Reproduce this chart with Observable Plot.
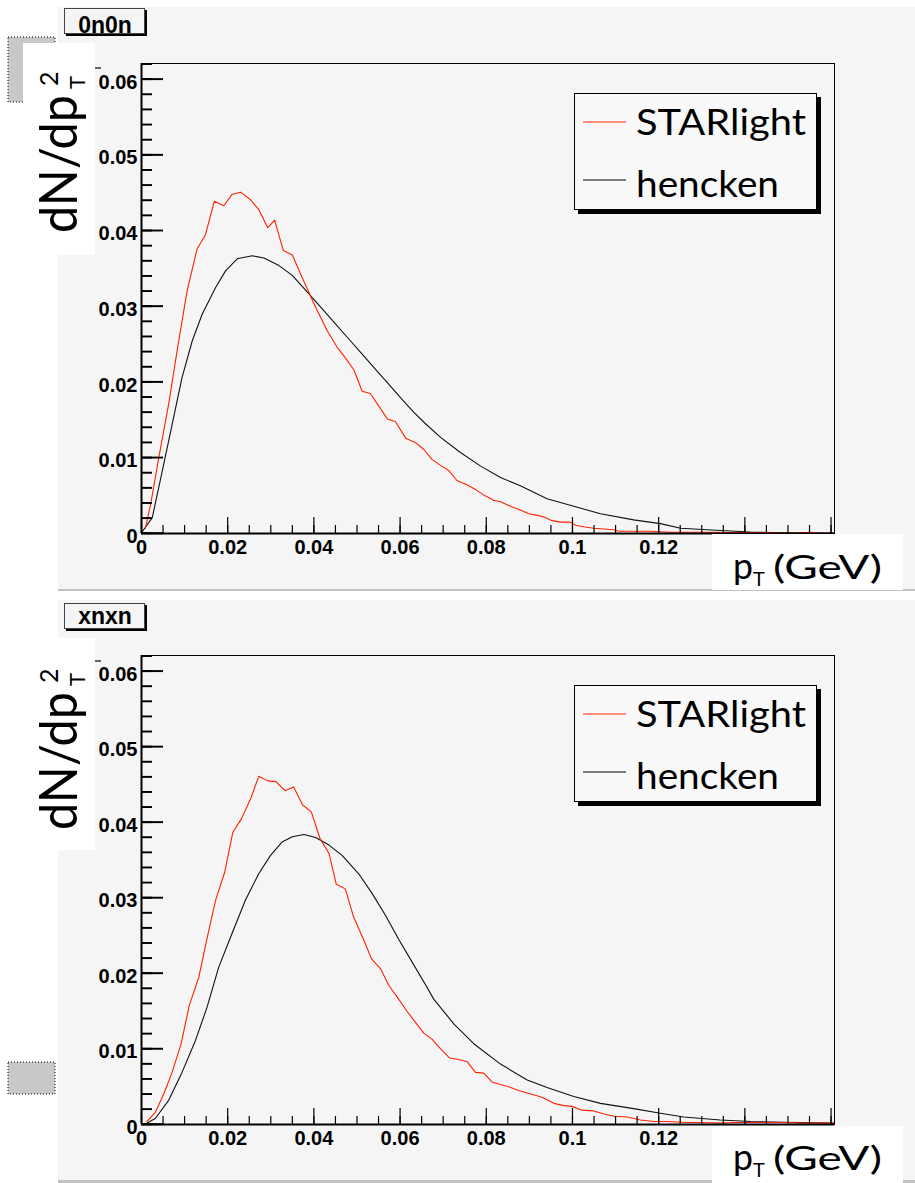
<!DOCTYPE html>
<html><head><meta charset="utf-8">
<script src="https://cdn.jsdelivr.net/npm/d3@7"></script>
<script src="https://cdn.jsdelivr.net/npm/@observablehq/plot@0.6"></script>
<style>
html,body{margin:0;padding:0;background:#fff;}
#root{position:relative;width:915px;height:1183px;overflow:hidden;background:#fff;}
.panel{position:absolute;left:58px;}
.sep{position:absolute;left:58px;width:857px;height:2px;background:#c2c2c2;}
.layer{position:absolute;left:0;top:0;}
</style></head><body><div id="root"></div>
<script>
// ---------- data ----------
const seriesNames = ["STARlight", "hencken"];
const panelTags = ["0n0n", "xnxn"];

// 0n0n : STARlight
const star0n0nPt = [0.0009,0.0021,0.0040,0.0063,0.0085,0.0106,0.0129,0.0148,0.0169,0.0191,0.0210,0.0230,0.0253,0.0272,0.0293,0.0309,0.0329,0.0350,0.0373,0.0404,0.0431,0.0454,0.0473,0.0493,0.0512,0.0531,0.0551,0.0571,0.0589,0.0613,0.0636,0.0655,0.0674,0.0694,0.0713,0.0732,0.0756,0.0775,0.0794,0.0817,0.0833,0.0860,0.0875,0.0899,0.0918,0.0933,0.0953,0.0972,0.0995,0.1007,0.1026,0.1049,0.1073,0.1096,0.1107,0.1142,0.1181,0.1227,0.1297,0.1374,0.1452,0.1490,0.1529,0.1552,0.1568,0.1606];
const star0n0nVal = [0.0007,0.0038,0.0100,0.0171,0.0250,0.0321,0.0376,0.0394,0.0439,0.0433,0.0448,0.0451,0.0441,0.0428,0.0404,0.0414,0.0374,0.0368,0.0338,0.0299,0.0268,0.0246,0.0232,0.0216,0.0188,0.0185,0.0168,0.0151,0.0148,0.0126,0.0120,0.0111,0.0098,0.0090,0.0083,0.0070,0.0064,0.0058,0.0051,0.0044,0.0042,0.0035,0.0032,0.0026,0.0024,0.0022,0.0017,0.0015,0.0015,0.0011,0.0009,0.0007,0.0006,0.0005,0.0003,0.0003,0.0003,0.00016,0.00016,0.00012,0.00012,0.00004,0.00008,0.00016,0.00004,0.00004];
// 0n0n : hencken
const henc0n0nPt = [0,0.0025,0.0048,0.0071,0.0094,0.0118,0.0141,0.0172,0.0195,0.0222,0.0257,0.0284,0.0319,0.0350,0.0388,0.0419,0.0450,0.0481,0.0512,0.0543,0.0574,0.0605,0.0632,0.0659,0.0694,0.0740,0.0787,0.0833,0.0879,0.0941,0.1003,0.1065,0.1142,0.1204,0.1251,0.1343,0.1413,0.1490,0.1606];
const henc0n0nVal = [0.0001,0.0021,0.0082,0.0144,0.0206,0.0255,0.0290,0.0325,0.0347,0.0363,0.0367,0.0364,0.0354,0.0341,0.0317,0.0297,0.0277,0.0257,0.0237,0.0217,0.0197,0.0177,0.0160,0.0145,0.0127,0.0107,0.0089,0.0074,0.0063,0.0046,0.0036,0.0026,0.0018,0.0013,0.0007,0.0004,0.0002,0.0001,0.00005];

// xnxn : STARlight
const starXnXnPt = [0.0013,0.0032,0.0052,0.0071,0.0092,0.0111,0.0133,0.0152,0.0172,0.0193,0.0212,0.0232,0.0253,0.0272,0.0293,0.0312,0.0333,0.0353,0.0374,0.0394,0.0414,0.0435,0.0452,0.0473,0.0492,0.0516,0.0534,0.0555,0.0574,0.0593,0.0616,0.0636,0.0655,0.0674,0.0694,0.0715,0.0736,0.0756,0.0775,0.0794,0.0814,0.0833,0.0852,0.0875,0.0899,0.0918,0.0933,0.0957,0.0980,0.0999,0.1022,0.1049,0.1073,0.1096,0.1127,0.1158,0.1189,0.1220,0.1266,0.1297,0.1343,0.1374,0.1436,0.1490,0.1529,0.1606];
const starXnXnVal = [0.0004,0.0016,0.0041,0.0069,0.0107,0.0158,0.0195,0.0246,0.0297,0.0334,0.0387,0.0405,0.0431,0.0461,0.0455,0.0454,0.0442,0.0447,0.0423,0.0414,0.0379,0.0359,0.0318,0.0312,0.0275,0.0244,0.0219,0.0206,0.0184,0.0169,0.0150,0.0135,0.0121,0.0113,0.0100,0.0088,0.0086,0.0083,0.0069,0.0068,0.0056,0.0053,0.0050,0.0045,0.0041,0.0038,0.0035,0.0028,0.0025,0.0024,0.0019,0.0018,0.0014,0.0011,0.0010,0.0006,0.0004,0.0004,0.00026,0.00026,0.00018,0.00026,0.00026,0.00026,0.00018,0.00018];
// xnxn : hencken
const hencXnXnPt = [0.0013,0.0032,0.0063,0.0094,0.0125,0.0152,0.0179,0.0210,0.0241,0.0272,0.0299,0.0326,0.0350,0.0377,0.0404,0.0435,0.0466,0.0504,0.0535,0.0566,0.0597,0.0628,0.0659,0.0678,0.0725,0.0771,0.0833,0.0895,0.0941,0.1003,0.1065,0.1142,0.1204,0.1258,0.1343,0.1413,0.1490,0.1606];
const hencXnXnVal = [0.0002,0.0008,0.0032,0.0069,0.0111,0.0155,0.0208,0.0253,0.0297,0.0332,0.0356,0.0374,0.0381,0.0384,0.0380,0.0370,0.0356,0.0332,0.0306,0.0277,0.0245,0.0215,0.0185,0.0166,0.0133,0.0107,0.0080,0.0059,0.0049,0.0037,0.0028,0.0021,0.0015,0.0010,0.0006,0.0004,0.0003,0.0002];

// axes
const xMajorTicks = [0, 0.02, 0.04, 0.06, 0.08, 0.10, 0.12, 0.14, 0.16];
const xTickLabels = [0, 0.02, 0.04, 0.06, 0.08, 0.10, 0.12];   // 0.14 and 0.16 are hidden under the axis title box
const yMajorTicks = [0, 0.01, 0.02, 0.03, 0.04, 0.05, 0.06];
const xMinorTicks = d3.range(0, 0.1605, 0.005);
const yMinorTicks = d3.range(0, 0.0621, 0.002);
const xDomain = [0, 0.1608];
const yDomain = [0, 0.0621];
const fmtX = d => String(+d.toFixed(2));
const fmtY = d => d === 0 ? "0" : d.toFixed(2);

// ---------- drawing ----------
const root = document.getElementById("root");
const RED = "#ff2200";
const none = () => "";
const PLOT_W = 693;
const xLen = px => xDomain[1] * px / PLOT_W;   // tick length expressed on the x scale

function makePlot(sx, sy, hx, hy, mt, mb) {
  const red = sx.map((x, i) => ({pt: x, v: sy[i]}));
  const blk = hx.map((x, i) => ({pt: x, v: hy[i]}));
  return Plot.plot({
    width: 857, height: 583,
    marginLeft: 83, marginRight: 81, marginTop: mt, marginBottom: mb,
    style: {background: "#f5f5f5", fontFamily: "'Liberation Sans', Arial, sans-serif", fontSize: "20px", fontWeight: "bold", color: "#000", overflow: "visible"},
    x: {domain: xDomain},
    y: {domain: yDomain},
    marks: [
      Plot.line(blk, {x: "pt", y: "v", stroke: "#111", strokeWidth: 1.1}),
      Plot.line(red, {x: "pt", y: "v", stroke: RED, strokeWidth: 1.1}),
      Plot.axisY(yMajorTicks, {tickSize: 0, tickPadding: 4, dy: 3, tickFormat: fmtY, label: null}),
      Plot.axisX(xMinorTicks, {anchor: "bottom", tickSize: 8, dy: -8, tickFormat: none, label: null, strokeWidth: 1.2}),
      Plot.axisX(xMajorTicks, {anchor: "bottom", tickSize: 16, dy: -16, tickFormat: none, label: null, strokeWidth: 1.2}),
      Plot.axisX(xTickLabels, {anchor: "bottom", tickSize: 0, tickPadding: 6, tickFormat: fmtX, label: null}),
      Plot.frame({stroke: "#000"}),
      Plot.ruleX([0], {stroke: "#000", strokeWidth: 2}),
      Plot.ruleY([0], {stroke: "#000", strokeWidth: 2}),
      // inward y ticks, last so nothing in the plot covers them
      Plot.ruleY(yMinorTicks, {y: d => d, x1: 0, x2: xLen(11), stroke: "#000", strokeWidth: 1.4}),
      Plot.ruleY(yMajorTicks, {y: d => d, x1: 0, x2: xLen(22), stroke: "#000", strokeWidth: 1.4})
    ]
  });
}

const p1 = makePlot(star0n0nPt, star0n0nVal, henc0n0nPt, henc0n0nVal, 56, 57);
p1.classList.add("panel"); p1.style.top = "7px"; root.appendChild(p1);
const p2 = makePlot(starXnXnPt, starXnXnVal, hencXnXnPt, hencXnXnVal, 55, 59);
p2.classList.add("panel"); p2.style.top = "600px"; root.appendChild(p2);

const s1 = document.createElement("div"); s1.className = "sep"; s1.style.top = "589px"; root.appendChild(s1);
const s2 = document.createElement("div"); s2.className = "sep"; s2.style.top = "1180px"; s2.style.height = "3px"; root.appendChild(s2);

// ---------- overlay: pad decorations, titles, legends ----------
const svg = d3.select(root).append("svg").attr("class", "layer").attr("width", 915).attr("height", 1183);
const TF = "Lato, 'DejaVu Sans', sans-serif";

const panels = [
  {tag: panelTags[0], dotted: [8, 37, 47, 65], white: [23, 43, 72, 212], tagBox: [64, 8], tagBase: 32.5, yt: [77, 233], dash: 68, leg: 93, xt: [712, 534, 191, 56], xtBase: 579},
  {tag: panelTags[1], dotted: [8, 1062, 47, 32], white: [23, 638, 72, 212], tagBox: [64, 603], tagBase: 624, yt: [77, 830], dash: 661, leg: 685, xt: [712, 1126, 191, 57], xtBase: 1170}
];

panels.forEach(p => {
  svg.append("rect").attr("x", p.dotted[0]).attr("y", p.dotted[1]).attr("width", p.dotted[2]).attr("height", p.dotted[3])
    .attr("fill", "#c8c8c8").attr("stroke", "#000").attr("stroke-width", 1).attr("stroke-dasharray", "1,2");
  svg.append("rect").attr("x", p.white[0]).attr("y", p.white[1]).attr("width", p.white[2]).attr("height", p.white[3]).attr("fill", "#fff");
  svg.append("line").attr("x1", 95).attr("x2", 101).attr("y1", p.dash).attr("y2", p.dash).attr("stroke", "#333").attr("stroke-width", 1.5);
  const [tx, ty] = p.tagBox;
  svg.append("rect").attr("x", tx + 2).attr("y", ty + 2).attr("width", 81).attr("height", 26).attr("fill", "#000");
  svg.append("rect").attr("x", tx + 0.5).attr("y", ty + 0.5).attr("width", 80).attr("height", 25).attr("fill", "#f5f5f5").attr("stroke", "#444");
  svg.append("text").attr("x", tx + 41).attr("y", p.tagBase).attr("text-anchor", "middle")
    .attr("font-family", "'Liberation Sans', Arial, sans-serif").attr("font-weight", "bold").attr("font-size", 23).text(p.tag);
  const g = svg.append("g").attr("transform", `translate(${p.yt[0]},${p.yt[1]}) rotate(-90)`)
    .attr("font-family", TF).attr("fill", "#000");
  g.append("text").attr("x", 0).attr("y", 0).attr("font-size", 52).attr("textLength", 138).attr("lengthAdjust", "spacingAndGlyphs").text("dN/dp");
  g.append("text").attr("x", 144).attr("y", 8).attr("font-size", 22).text("T");
  g.append("text").attr("x", 147).attr("y", -19).attr("font-size", 25).text("2");
  svg.append("rect").attr("x", p.xt[0]).attr("y", p.xt[1]).attr("width", p.xt[2]).attr("height", p.xt[3]).attr("fill", "#fff");
  const xt = svg.append("g").attr("font-family", TF).attr("fill", "#000");
  xt.append("text").attr("x", 733).attr("y", p.xtBase).attr("font-size", 36).attr("textLength", 20).attr("lengthAdjust", "spacingAndGlyphs").text("p");
  xt.append("text").attr("x", 753).attr("y", p.xtBase + 7).attr("font-size", 20).text("T");
  xt.append("text").attr("x", 773).attr("y", p.xtBase).attr("font-size", 33).attr("textLength", 109).attr("lengthAdjust", "spacingAndGlyphs").text("(GeV)");
  const L = p.leg;
  svg.append("rect").attr("x", 578).attr("y", L + 4).attr("width", 243).attr("height", 117).attr("fill", "#000");
  svg.append("rect").attr("x", 574.5).attr("y", L + 0.5).attr("width", 242).attr("height", 116).attr("fill", "#f8f8f8").attr("stroke", "#000");
  svg.append("line").attr("x1", 583).attr("x2", 626).attr("y1", L + 29).attr("y2", L + 29).attr("stroke", RED).attr("stroke-width", 1.2);
  svg.append("line").attr("x1", 583).attr("x2", 626).attr("y1", L + 87).attr("y2", L + 87).attr("stroke", "#000").attr("stroke-width", 1.2);
  svg.append("text").attr("x", 636).attr("y", L + 42).attr("font-family", TF).attr("font-size", 37).attr("textLength", 170).attr("lengthAdjust", "spacingAndGlyphs").text(seriesNames[0]);
  svg.append("text").attr("x", 636).attr("y", L + 104).attr("font-family", TF).attr("font-size", 37).attr("textLength", 143).attr("lengthAdjust", "spacingAndGlyphs").text(seriesNames[1]);
});

// ---------- top layer: y ticks again, through each plot's own y scale ----------
const tickLayer = d3.select(root).append("svg").attr("class", "layer").attr("width", 915).attr("height", 1183);
[[p1, 7], [p2, 600]].forEach(([pl, top]) => {
  const ys = pl.scale("y");
  const x0 = 58 + 83;
  yMinorTicks.forEach(v => {
    const yy = top + ys.apply(v);
    tickLayer.append("line").attr("x1", x0).attr("x2", x0 + 11).attr("y1", yy).attr("y2", yy).attr("stroke", "#000").attr("stroke-width", 1.4);
  });
  yMajorTicks.forEach(v => {
    const yy = top + ys.apply(v);
    tickLayer.append("line").attr("x1", x0).attr("x2", x0 + 22).attr("y1", yy).attr("y2", yy).attr("stroke", "#000").attr("stroke-width", 1.4);
  });
});
</script>
</body></html>
